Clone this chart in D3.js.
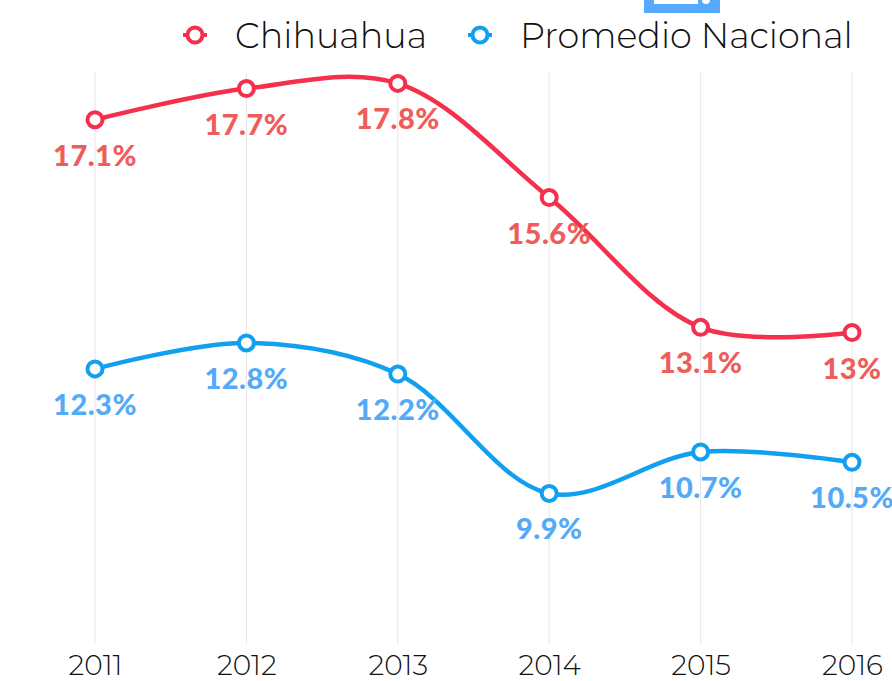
<!DOCTYPE html>
<html>
<head>
<meta charset="utf-8">
<script src="https://cdn.jsdelivr.net/npm/d3@7"></script>
<style>
  html, body { margin: 0; padding: 0; background: #fff; }
  svg { display: block; }
</style>
</head>
<body>
<div id="chart"></div>
<script>
var years = ["2011", "2012", "2013", "2014", "2015", "2016"];
var chihuahua = [17.1, 17.7, 17.8, 15.6, 13.1, 13.0];
var nacional = [12.3, 12.8, 12.2, 9.9, 10.7, 10.5];
var chihuahuaLabels = ["17.1%", "17.7%", "17.8%", "15.6%", "13.1%", "13%"];
var nacionalLabels = ["12.3%", "12.8%", "12.2%", "9.9%", "10.7%", "10.5%"];
var seriesNames = ["Chihuahua", "Promedio Nacional"];

var W = 892, H = 681;

var svg = d3.select("#chart").append("svg")
    .attr("width", W)
    .attr("height", H);

var x = d3.scalePoint()
    .domain(years)
    .range([95, 852]);

var y = d3.scaleLinear()
    .domain([7, 18])
    .range([644, 73]);

// vertical grid lines
svg.append("g").selectAll("line")
    .data(years)
  .enter().append("line")
    .attr("x1", function(d) { return x(d); })
    .attr("x2", function(d) { return x(d); })
    .attr("y1", y(18))
    .attr("y2", y(7))
    .attr("stroke", "#e6e6e6")
    .attr("stroke-width", 1);

// x axis labels
var xAxis = svg.append("g")
    .attr("transform", "translate(0," + y(7) + ")")
    .call(d3.axisBottom(x).tickSize(0).tickPadding(11));
xAxis.select(".domain").remove();
xAxis.selectAll("text")
    .attr("dy", "0.71em")
    .style("font-family", "Montserrat, Lato, 'Liberation Sans', sans-serif")
    .style("font-weight", 300)
    .style("font-size", "28px")
    .style("fill", "#111");

var series = [
  { name: seriesNames[0], values: chihuahua, labels: chihuahuaLabels, color: "#f5304c", labelColor: "#ef5d5a" },
  { name: seriesNames[1], values: nacional, labels: nacionalLabels, color: "#11a0f0", labelColor: "#55aaf8" }
];

var line = d3.line()
    .x(function(d, i) { return x(years[i]); })
    .y(function(d) { return y(d); })
    .curve(d3.curveCatmullRom.alpha(0.5));

series.forEach(function(s) {
  var g = svg.append("g");
  g.append("path")
      .datum(s.values)
      .attr("d", line)
      .attr("fill", "none")
      .attr("stroke", s.color)
      .attr("stroke-width", 4.5);

  g.selectAll(".dot")
      .data(s.values)
    .enter().append("circle")
      .attr("class", "dot")
      .attr("cx", function(d, i) { return x(years[i]); })
      .attr("cy", function(d) { return y(d); })
      .attr("r", 7.5)
      .attr("fill", "#fff")
      .attr("stroke", s.color)
      .attr("stroke-width", 4);

  g.selectAll(".lbl")
      .data(s.values)
    .enter().append("text")
      .attr("class", "lbl")
      .attr("x", function(d, i) { return x(years[i]); })
      .attr("y", function(d) { return y(d) + 46; })
      .attr("text-anchor", "middle")
      .style("font-family", "Lato, 'Liberation Sans', sans-serif")
      .style("font-weight", 900)
      .style("font-size", "29px")
      .style("letter-spacing", "0.5px")
      .style("fill", s.labelColor)
      .text(function(d, i) { return s.labels[i]; });
});

// legend
var legendX = [195, 480];
var legend = svg.append("g").selectAll("g")
    .data(series)
  .enter().append("g")
    .attr("transform", function(d, i) { return "translate(" + legendX[i] + ",35)"; });
legend.append("line")
    .attr("x1", -12).attr("x2", 12)
    .attr("stroke", function(d) { return d.color; })
    .attr("stroke-width", 4);
legend.append("circle")
    .attr("r", 7.5)
    .attr("fill", "#fff")
    .attr("stroke", function(d) { return d.color; })
    .attr("stroke-width", 4);
legend.append("text")
    .attr("x", 40)
    .attr("dy", "0.36em")
    .style("font-family", "Montserrat, Lato, 'Liberation Sans', sans-serif")
    .style("font-weight", 300)
    .style("font-size", "35px")
    .style("fill", "#111")
    .text(function(d) { return d.name; });

// partially visible button at the top
var btn = svg.append("g");
btn.append("rect")
    .attr("x", 644).attr("y", -10).attr("width", 76).attr("height", 23)
    .attr("fill", "#55aaff");
btn.append("rect")
    .attr("x", 654).attr("y", -10).attr("width", 44).attr("height", 14)
    .attr("fill", "#fff");
btn.append("circle")
    .attr("cx", 706).attr("cy", 0).attr("r", 4)
    .attr("fill", "#fff");
</script>
</body>
</html>
